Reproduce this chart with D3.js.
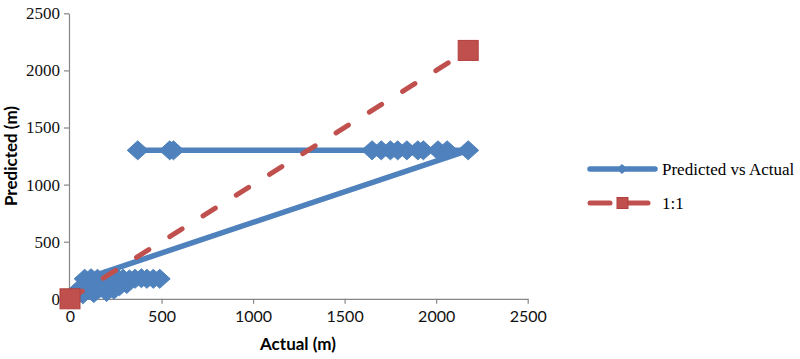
<!DOCTYPE html>
<html>
<head>
<meta charset="utf-8">
<script src="https://cdn.jsdelivr.net/npm/d3@7"></script>
<style>
  body { margin: 0; background: #fff; }
</style>
</head>
<body>
<div id="chart"></div>
<script>
// blue series, in the order the points are joined
const actual = [370, 545, 565, 1650, 1700, 1750, 1790, 1840, 1900, 1930, 2010, 2060, 2175,
  80, 115, 150, 190, 230, 260, 290, 325, 355, 390, 420, 455, 490,
  310, 270, 240, 200, 160, 130, 100, 70, 40, 20, 5];
const predicted = [1300, 1300, 1300, 1300, 1300, 1300, 1300, 1300, 1300, 1300, 1300, 1300, 1300,
  175, 180, 175, 170, 175, 180, 175, 170, 175, 180, 175, 175, 175,
  130, 110, 80, 60, 90, 50, 80, 40, 70, 20, 5];
// 1:1 reference line
const refActual = [0, 2175];
const refPredicted = [0, 2175];
const xTicks = [0, 500, 1000, 1500, 2000, 2500];
const yTicks = [0, 500, 1000, 1500, 2000, 2500];
const seriesNames = ["Predicted vs Actual", "1:1"];

const blue = "#4F81BD", red = "#C0504D", axisGrey = "#868686";

const svg = d3.select("#chart")
  .append("svg")
  .attr("width", 800)
  .attr("height", 359);

const x = d3.scaleLinear().domain([0, 2500]).range([70, 527.7]);
const y = d3.scaleLinear().domain([0, 2500]).range([298.8, 13.3]);

// axes
const xAxis = svg.append("g")
  .attr("transform", `translate(0,${y(0)})`)
  .call(d3.axisBottom(x).tickValues(xTicks).tickFormat(d3.format("d"))
    .tickSize(5).tickSizeOuter(0).tickPadding(7));
const yAxis = svg.append("g")
  .attr("transform", `translate(${x(0) - 1},0)`)
  .call(d3.axisLeft(y).tickValues(yTicks).tickFormat(d3.format("d"))
    .tickSize(5).tickSizeOuter(0).tickPadding(4));

[xAxis, yAxis].forEach(a => {
  a.select(".domain").attr("stroke", axisGrey).attr("stroke-width", 1.2);
  a.selectAll(".tick line").attr("stroke", axisGrey).attr("stroke-width", 1.2);
});
xAxis.selectAll(".tick text")
  .attr("fill", "#111")
  .style("font-family", "Lato, 'Open Sans', sans-serif")
  .style("font-size", "16px");
yAxis.selectAll(".tick text")
  .attr("fill", "#111")
  .style("font-family", "'Liberation Serif', 'DejaVu Serif', serif")
  .style("font-size", "17px");

// axis titles
svg.append("text")
  .attr("x", 298)
  .attr("y", 350)
  .attr("text-anchor", "middle")
  .style("font-family", "Lato, 'Open Sans', sans-serif")
  .style("font-weight", "bold")
  .style("font-size", "17px")
  .text("Actual (m)");
svg.append("text")
  .attr("transform", "translate(17,156) rotate(-90)")
  .attr("text-anchor", "middle")
  .style("font-family", "Lato, 'Open Sans', sans-serif")
  .style("font-weight", "bold")
  .style("font-size", "17px")
  .text("Predicted (m)");

// blue series: line, then diamonds
const bluePts = actual.map((d, i) => [d, predicted[i]]);
const line = d3.line().x(d => x(d[0])).y(d => y(d[1]));

svg.append("path")
  .datum(bluePts)
  .attr("d", line)
  .attr("fill", "none")
  .attr("stroke", blue)
  .attr("stroke-width", 5.5)
  .attr("stroke-linejoin", "round")
  .attr("stroke-linecap", "round");

const diamond = "M0,-9.5L10.5,0L0,9.5L-10.5,0Z";
svg.selectAll(".dia")
  .data(bluePts)
  .enter()
  .append("path")
  .attr("class", "dia")
  .attr("d", diamond)
  .attr("transform", d => `translate(${x(d[0])},${y(d[1])})`)
  .attr("fill", blue)
  .attr("stroke", blue)
  .attr("stroke-width", 1);

// 1:1 series on top
const refPts = refActual.map((d, i) => [d, refPredicted[i]]);
svg.append("path")
  .datum(refPts)
  .attr("d", line)
  .attr("fill", "none")
  .attr("stroke", red)
  .attr("stroke-width", 5)
  .attr("stroke-linecap", "round")
  .attr("stroke-dasharray", "14.5,24.7");

svg.selectAll(".sq")
  .data(refPts)
  .enter()
  .append("rect")
  .attr("class", "sq")
  .attr("x", d => x(d[0]) - 10)
  .attr("y", d => y(d[1]) - 10)
  .attr("width", 20)
  .attr("height", 20)
  .attr("fill", red)
  .attr("stroke", "#B0403D")
  .attr("stroke-width", 1);

// legend
const leg = svg.append("g");
leg.append("line")
  .attr("x1", 590).attr("x2", 655).attr("y1", 169).attr("y2", 169)
  .attr("stroke", blue).attr("stroke-width", 5.5).attr("stroke-linecap", "round");
leg.append("path")
  .attr("d", "M0,-5L5.5,0L0,5L-5.5,0Z")
  .attr("transform", "translate(622,169)")
  .attr("fill", blue);
leg.append("line")
  .attr("x1", 590).attr("x2", 610).attr("y1", 203).attr("y2", 203)
  .attr("stroke", red).attr("stroke-width", 5).attr("stroke-linecap", "round");
leg.append("line")
  .attr("x1", 628).attr("x2", 648).attr("y1", 203).attr("y2", 203)
  .attr("stroke", red).attr("stroke-width", 5).attr("stroke-linecap", "round");
leg.append("rect")
  .attr("x", 617).attr("y", 197.5).attr("width", 11).attr("height", 11)
  .attr("fill", red).attr("stroke", "#B0403D");

leg.selectAll(".lt")
  .data(seriesNames)
  .enter()
  .append("text")
  .attr("class", "lt")
  .attr("x", 662)
  .attr("y", (d, i) => [169, 203][i])
  .attr("dy", "0.33em")
  .style("font-family", "'Liberation Serif', 'DejaVu Serif', serif")
  .style("font-size", "17px")
  .text(d => d);
</script>
</body>
</html>
